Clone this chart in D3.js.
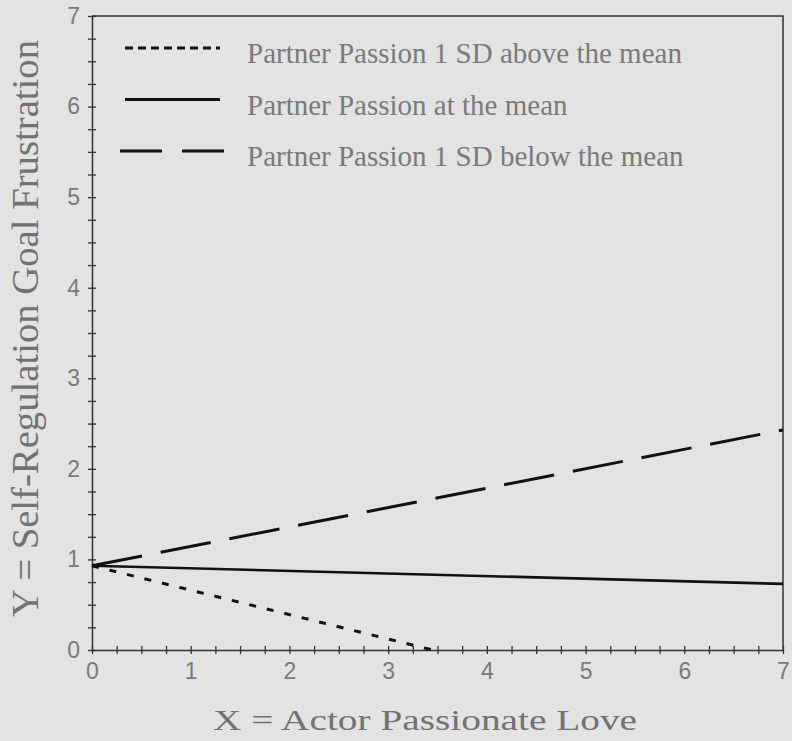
<!DOCTYPE html>
<html>
<head>
<meta charset="utf-8">
<script src="https://d3js.org/d3.v7.min.js"></script>
<style>
  body { margin: 0; background: #e3e3e3; }
  svg { display: block; }
</style>
</head>
<body>
<svg id="chart"></svg>
<script>
// values
const xTicks = [0, 1, 2, 3, 4, 5, 6, 7];
const yTicks = [0, 1, 2, 3, 4, 5, 6, 7];
const seriesNames = [
  'Partner Passion 1 SD above the mean',
  'Partner Passion at the mean',
  'Partner Passion 1 SD below the mean'
];
const aboveX = [0, 3.45];
const aboveY = [0.93, 0];
const meanX = [0, 7];
const meanY = [0.93, 0.73];
const belowX = [0, 7];
const belowY = [0.93, 2.43];

const config = {
  width: 792,
  height: 741,
  margin: { top: 16, right: 9, bottom: 91, left: 92 }
};

const svg = d3.select('#chart')
  .attr('width', config.width)
  .attr('height', config.height);

const innerW = config.width - config.margin.left - config.margin.right;
const innerH = config.height - config.margin.top - config.margin.bottom;

const xScale = d3.scaleLinear().domain([0, 7]).range([config.margin.left, config.margin.left + innerW]);
const yScale = d3.scaleLinear().domain([0, 7]).range([config.margin.top + innerH, config.margin.top]);

const minor = d3.range(0, 7.001, 0.25);
const isMajor = v => Math.abs(v - Math.round(v)) < 1e-6;

// frame (top + right)
svg.append('path')
  .attr('d', `M${xScale(0)},${yScale(7)}H${xScale(7)}V${yScale(0)}`)
  .attr('fill', 'none')
  .attr('stroke', '#333')
  .attr('stroke-width', 1.5);

// axes
const xAxisG = svg.append('g')
  .attr('transform', `translate(0,${yScale(0)})`)
  .call(d3.axisBottom(xScale).tickValues(minor)
    .tickFormat(d => isMajor(d) && xTicks.includes(Math.round(d)) ? d3.format('d')(d) : '')
    .tickSizeOuter(0));

const yAxisG = svg.append('g')
  .attr('transform', `translate(${xScale(0)},0)`)
  .call(d3.axisLeft(yScale).tickValues(minor)
    .tickFormat(d => isMajor(d) && yTicks.includes(Math.round(d)) ? d3.format('d')(d) : '')
    .tickSizeOuter(0));

[xAxisG, yAxisG].forEach(g => {
  g.select('.domain').attr('stroke', '#333').attr('stroke-width', 1.5);
  g.selectAll('.tick line').attr('stroke', '#333').attr('stroke-width', 1.3);
  g.selectAll('.tick text')
    .attr('fill', '#7a7a7a')
    .style('font-family', '"Liberation Sans", Arial, sans-serif')
    .style('font-size', '23px');
});
xAxisG.selectAll('.tick line').attr('y1', -4).attr('y2', 4);
xAxisG.selectAll('.tick text').attr('y', 13);
yAxisG.selectAll('.tick line').attr('x1', -4).attr('x2', 4);
yAxisG.selectAll('.tick text').attr('x', -12);

// lines
const line = d3.line().x(d => xScale(d[0])).y(d => yScale(d[1]));
const series = [
  { pts: d3.zip(aboveX, aboveY), dash: '7,11', w: 3 },
  { pts: d3.zip(meanX, meanY), dash: null, w: 2.6 },
  { pts: d3.zip(belowX, belowY), dash: '51,19', w: 3 }
];
svg.append('g').selectAll('path')
  .data(series)
  .join('path')
  .attr('d', d => line(d.pts))
  .attr('fill', 'none')
  .attr('stroke', '#111')
  .attr('stroke-width', d => d.w)
  .attr('stroke-dasharray', d => d.dash);

// legend
const legendStyles = [
  { dash: '8,5', w: 3 },
  { dash: null, w: 3 },
  { dash: '42,20', w: 3.2 }
];
const legend = svg.append('g').selectAll('g')
  .data(seriesNames)
  .join('g')
  .attr('transform', (d, i) => `translate(0,${48 + i * 51.5})`);
legend.append('line')
  .attr('x1', (d, i) => i === 2 ? 120 : 125)
  .attr('x2', (d, i) => i === 2 ? 225 : 220)
  .attr('stroke', '#111')
  .attr('stroke-width', (d, i) => legendStyles[i].w)
  .attr('stroke-dasharray', (d, i) => legendStyles[i].dash);
legend.append('text')
  .attr('x', 247)
  .attr('y', 15)
  .attr('fill', '#7a7a7a')
  .style('font-family', '"Liberation Serif", "Times New Roman", serif')
  .style('font-size', '29px')
  .text(d => d);

// axis titles
svg.append('text')
  .attr('x', 213)
  .attr('y', 730)
  .attr('textLength', 424)
  .attr('lengthAdjust', 'spacingAndGlyphs')
  .attr('fill', '#727272')
  .style('font-family', '"Liberation Serif", "Times New Roman", serif')
  .style('font-size', '30px')
  .text('X = Actor Passionate Love');

svg.append('text')
  .attr('transform', 'translate(38,617) rotate(-90)')
  .attr('textLength', 577)
  .attr('lengthAdjust', 'spacingAndGlyphs')
  .attr('fill', '#727272')
  .style('font-family', '"Liberation Serif", "Times New Roman", serif')
  .style('font-size', '38px')
  .text('Y = Self-Regulation Goal Frustration');
</script>
</body>
</html>
